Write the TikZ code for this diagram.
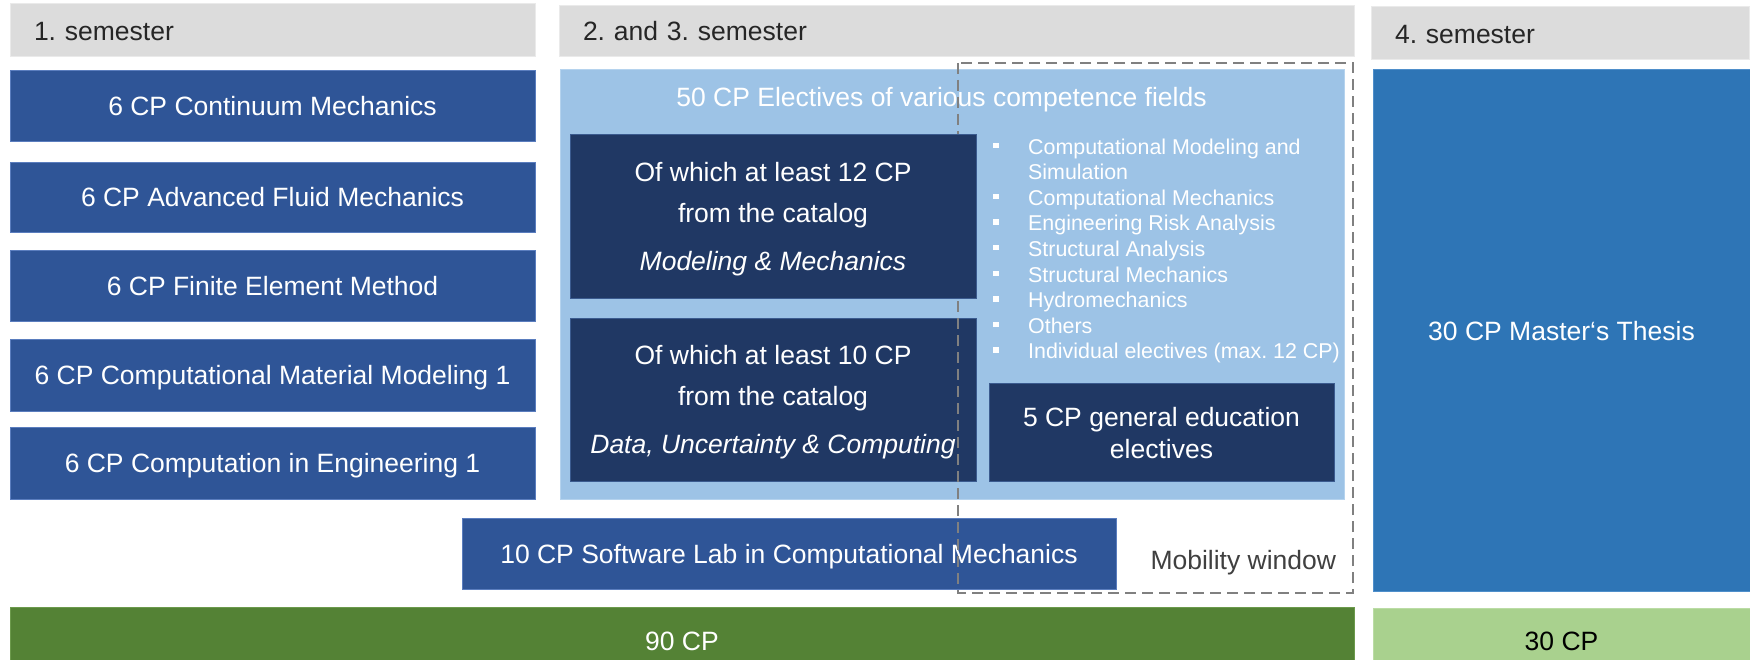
\documentclass[tikz,border=0pt]{standalone}
\usepackage{fontspec}
\setmainfont{Liberation Sans}
\frenchspacing
\definecolor{hdrgray}{HTML}{DCDCDC}
\definecolor{hdredge}{HTML}{EAEAEA}
\definecolor{hdrtext}{HTML}{262626}
\definecolor{midblue}{HTML}{2F5597}
\definecolor{midedge}{HTML}{5A7DBE}
\definecolor{navy}{HTML}{203864}
\definecolor{navyedge}{HTML}{3B5B8F}
\definecolor{skyblue}{HTML}{9DC3E6}
\definecolor{skyedge}{HTML}{B5D3EE}
\definecolor{thesisblue}{HTML}{2E75B6}
\definecolor{thesisedge}{HTML}{4F8FCB}
\definecolor{darkgreen}{HTML}{548235}
\definecolor{greenedge}{HTML}{6C9A4C}
\definecolor{lightgreen}{HTML}{A9D18E}
\definecolor{lgreenedge}{HTML}{BBDCA5}
\definecolor{dashgray}{HTML}{808080}
\definecolor{notegray}{HTML}{404040}
% square list bullet hanging left of the item text
\newcommand{\bulletsq}{\llap{\rule[6pt]{5.5pt}{5.5pt}\hspace{29.5pt}}}
% raises the first line of the catalog boxes
\newcommand{\topstrut}{\rule{0pt}{24.2pt}}
\begin{document}
\begin{tikzpicture}[x=1pt,y=-1pt,
  box/.style={inner sep=0pt, line width=1pt, text=white,
    font=\fontsize{26.5}{31}\selectfont},
  oneline/.style={text height=19pt, text depth=0pt},
  header/.style={box, fill=hdrgray, draw=hdredge, text=hdrtext,
    align=left, inner xsep=24pt, text height=21pt, text depth=0pt},
  course/.style={box, oneline, fill=midblue, draw=midedge, align=center},
  catalog/.style={box, fill=navy, draw=navyedge, align=center,
    font=\fontsize{26.5}{41}\selectfont},
  total/.style={box, line width=1pt, text height=33pt, text depth=0pt},
  mobility/.style={draw=dashgray, line width=2.5pt, dash pattern=on 11pt off 6pt}
]
\useasboundingbox (0,0) rectangle (1750,660);

% semester headers
\node[header, minimum width=525pt, minimum height=53pt, text width=477pt]
  (h1) at (272.5,30.5) {1. semester};
\node[header, minimum width=795pt, minimum height=51pt, text width=747pt,
  text height=19pt] (h2) at (956.5,31.5) {2. and 3. semester};
\node[header, minimum width=378pt, minimum height=53pt, text width=330pt]
  (h4) at (1560,33.5) {4. semester};

% first semester modules
\node[course, minimum width=525pt, minimum height=71pt] (cm) at (272.5,106.5)
  {6 CP Continuum Mechanics};
\node[course, minimum width=525pt, minimum height=70pt] (afm) at (272.5,197.5)
  {6 CP Advanced Fluid Mechanics};
\node[course, minimum width=525pt, minimum height=70pt] (fem) at (272.5,286)
  {6 CP Finite Element Method};
\node[course, minimum width=525pt, minimum height=72pt] (cmm) at (272.5,375)
  {6 CP Computational Material Modeling 1};
\node[course, minimum width=525pt, minimum height=72pt] (cie) at (272.5,463)
  {6 CP Computation in Engineering 1};

% electives block
\node[box, fill=skyblue, draw=skyedge, minimum width=784pt, minimum height=429pt]
  (elec) at (952,284.5) {};
\node[box, anchor=base, inner sep=0pt] (electitle) at (941.5,107)
  {50 CP Electives of various competence fields};
\node[box, anchor=north west, align=left, font=\fontsize{21.4}{25.6}\selectfont]
  (fields) at (1027.7,138) {%
  \bulletsq Computational Modeling and\\
  Simulation\\
  \bulletsq Computational Mechanics\\
  \bulletsq Engineering Risk Analysis\\
  \bulletsq Structural Analysis\\
  \bulletsq Structural Mechanics\\
  \bulletsq Hydromechanics\\
  \bulletsq Others\\
  \bulletsq Individual electives (max. 12 CP)};
\node[catalog, minimum width=406pt, minimum height=163pt] (dat) at (773,399.5)
  {\topstrut Of which at least 10 CP\\ from the catalog\\[6.3pt]
   \textit{Data, Uncertainty \& Computing}};
\node[box, fill=navy, draw=navyedge, align=center,
  font=\fontsize{26.5}{32}\selectfont, minimum width=345pt, minimum height=98pt]
  (gen) at (1161.5,432) {\rule{0pt}{22pt}5 CP general education\\ electives};

% software lab
\node[course, minimum width=654pt, minimum height=71pt] (lab) at (789,553.5)
  {10 CP Software Lab in Computational Mechanics};

% fourth semester
\node[course, fill=thesisblue, draw=thesisedge, minimum width=377pt,
  minimum height=521pt] (thesis) at (1561.5,330.5) {30 CP Master‘s Thesis};

% credit totals
\node[total, fill=darkgreen, draw=greenedge, text=white,
  minimum width=1344pt, minimum height=53pt] (t90) at (682,633.5) {90 CP};
\node[total, fill=lightgreen, draw=lgreenedge, text=black,
  minimum width=377pt, minimum height=52pt] (t30) at (1561.5,634) {30 CP};

% mobility window
\node[box, anchor=base west, text=notegray] (mobtext) at (1150,569) {Mobility window};
\coordinate (mobNW) at (958,63);
\coordinate (mobSE) at (1353,593);
\draw[mobility] (mobNW) rectangle (mobSE);

% catalog box drawn above the dashed frame
\node[catalog, minimum width=406pt, minimum height=163pt] (mod) at (773,216.5)
  {\topstrut Of which at least 12 CP\\ from the catalog\\[6.3pt]
   \textit{Modeling \& Mechanics}};
\end{tikzpicture}
\end{document}
